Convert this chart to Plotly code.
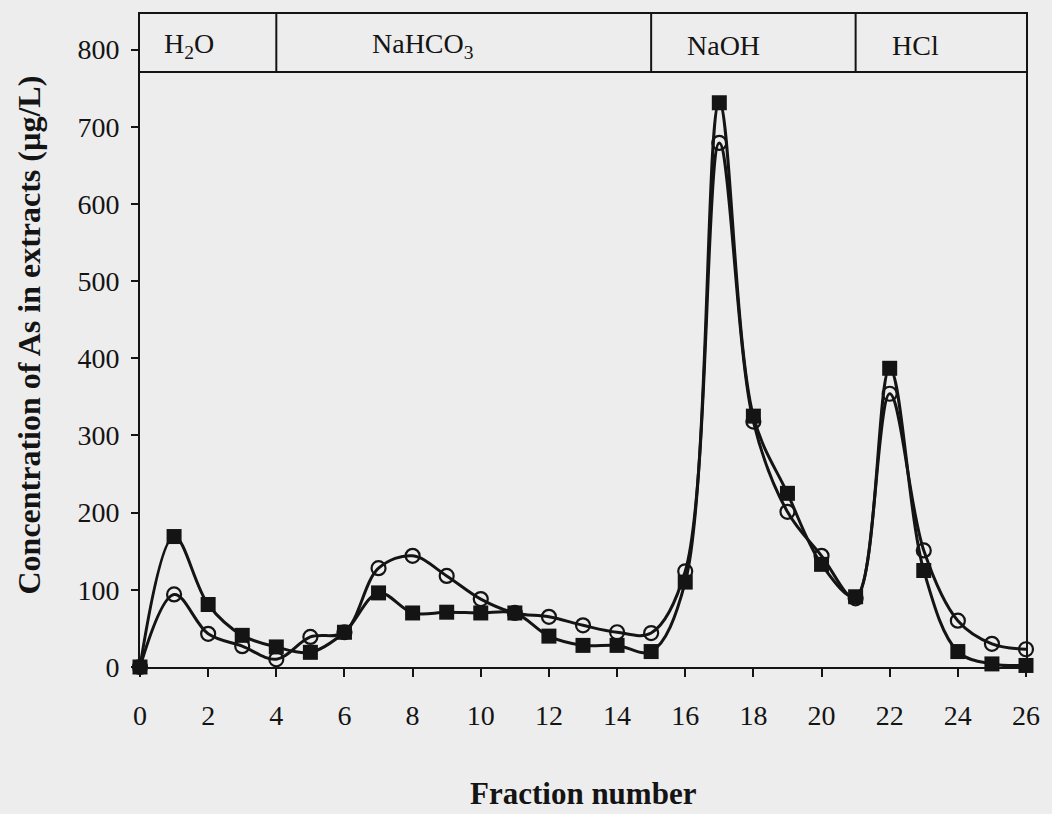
import plotly.graph_objects as go

# Fraction numbers and arsenic concentrations (µg/L) for the two extraction series
fractions = list(range(27))
as_square = [0, 169, 81, 41, 26, 19, 45, 96, 70, 71, 70, 70, 40, 28, 28, 20,
             110, 731, 325, 225, 133, 91, 387, 125, 20, 4, 2]
as_circle = [0, 94, 43, 27, 10, 39, 45, 128, 144, 118, 88, 70, 65, 54, 45, 44,
             124, 679, 318, 201, 144, 89, 354, 151, 60, 30, 23]

# Extractant segments along the fraction axis
segment_edges = [0, 4, 15, 21, 26]
segment_names = ["H<sub>2</sub>O", "NaHCO<sub>3</sub>", "NaOH", "HCl"]

y_ticks = [0, 100, 200, 300, 400, 500, 600, 700, 800]
x_ticks = list(range(0, 27, 2))

INK = "#141414"
BG = "#ededed"
SERIF = "Liberation Serif, Times New Roman, serif"

Y_TOP = 846
BAND_LOW = 771

fig = go.Figure()

fig.add_trace(go.Scatter(
    x=fractions, y=as_circle, mode="lines+markers",
    line=dict(color=INK, width=3, shape="spline", smoothing=1),
    marker=dict(symbol="circle", size=14, color="rgba(0,0,0,0)",
                line=dict(color=INK, width=2.2)),
    showlegend=False, cliponaxis=False,
))
fig.add_trace(go.Scatter(
    x=fractions, y=as_square, mode="lines+markers",
    line=dict(color=INK, width=3, shape="spline", smoothing=1),
    marker=dict(symbol="square", size=15, color=INK, line=dict(width=0)),
    showlegend=False, cliponaxis=False,
))

# Header band with the extractant names
shapes = [dict(type="line", xref="x", yref="y", x0=segment_edges[0], x1=segment_edges[-1],
               y0=BAND_LOW, y1=BAND_LOW, line=dict(color=INK, width=2))]
for edge in segment_edges[1:-1]:
    shapes.append(dict(type="line", xref="x", yref="y", x0=edge, x1=edge,
                       y0=BAND_LOW, y1=Y_TOP, line=dict(color=INK, width=2)))

label_pads = [22, 94, 34, 34]
annotations = []
for name, left, pad in zip(segment_names, segment_edges[:-1], label_pads):
    annotations.append(dict(
        x=left, y=(BAND_LOW + Y_TOP) / 2, xref="x", yref="y",
        text=name, showarrow=False, xanchor="left", yanchor="middle",
        xshift=pad, yshift=-3, font=dict(family=SERIF, size=28, color=INK),
    ))

annotations.append(dict(
    x=0.5, y=0, xref="paper", yref="paper", text="<b>Fraction number</b>",
    showarrow=False, xanchor="center", yanchor="middle", yshift=-126,
    font=dict(family=SERIF, size=31, color=INK),
))
annotations.append(dict(
    x=0, y=0.5, xref="paper", yref="paper",
    text="<b>Concentration of As in extracts (µg/L)</b>",
    showarrow=False, xanchor="center", yanchor="middle", xshift=-112, yshift=5,
    textangle=-90, font=dict(family=SERIF, size=32, color=INK),
))

fig.update_layout(
    width=1052, height=814,
    margin=dict(l=140, r=17, t=13, b=147),
    paper_bgcolor=BG, plot_bgcolor=BG,
    shapes=shapes, annotations=annotations,
    font=dict(family=SERIF, color=INK),
)
fig.update_xaxes(
    range=[0, 26], tickvals=x_ticks, ticktext=[str(v) for v in x_ticks],
    showgrid=False, zeroline=False, showline=True, linecolor=INK, linewidth=2,
    mirror=True, ticks="outside", ticklen=8, tickwidth=1.5, tickcolor=INK,
    ticklabelstandoff=14, tickfont=dict(family=SERIF, size=28, color=INK),
)
fig.update_yaxes(
    range=[0, Y_TOP], tickvals=y_ticks, ticktext=[str(v) for v in y_ticks],
    showgrid=False, zeroline=False, showline=True, linecolor=INK, linewidth=2,
    mirror=True, ticks="outside", ticklen=7, tickwidth=1.5, tickcolor=INK,
    ticklabelstandoff=6, tickfont=dict(family=SERIF, size=28, color=INK),
)

fig.write_html("out.html")
